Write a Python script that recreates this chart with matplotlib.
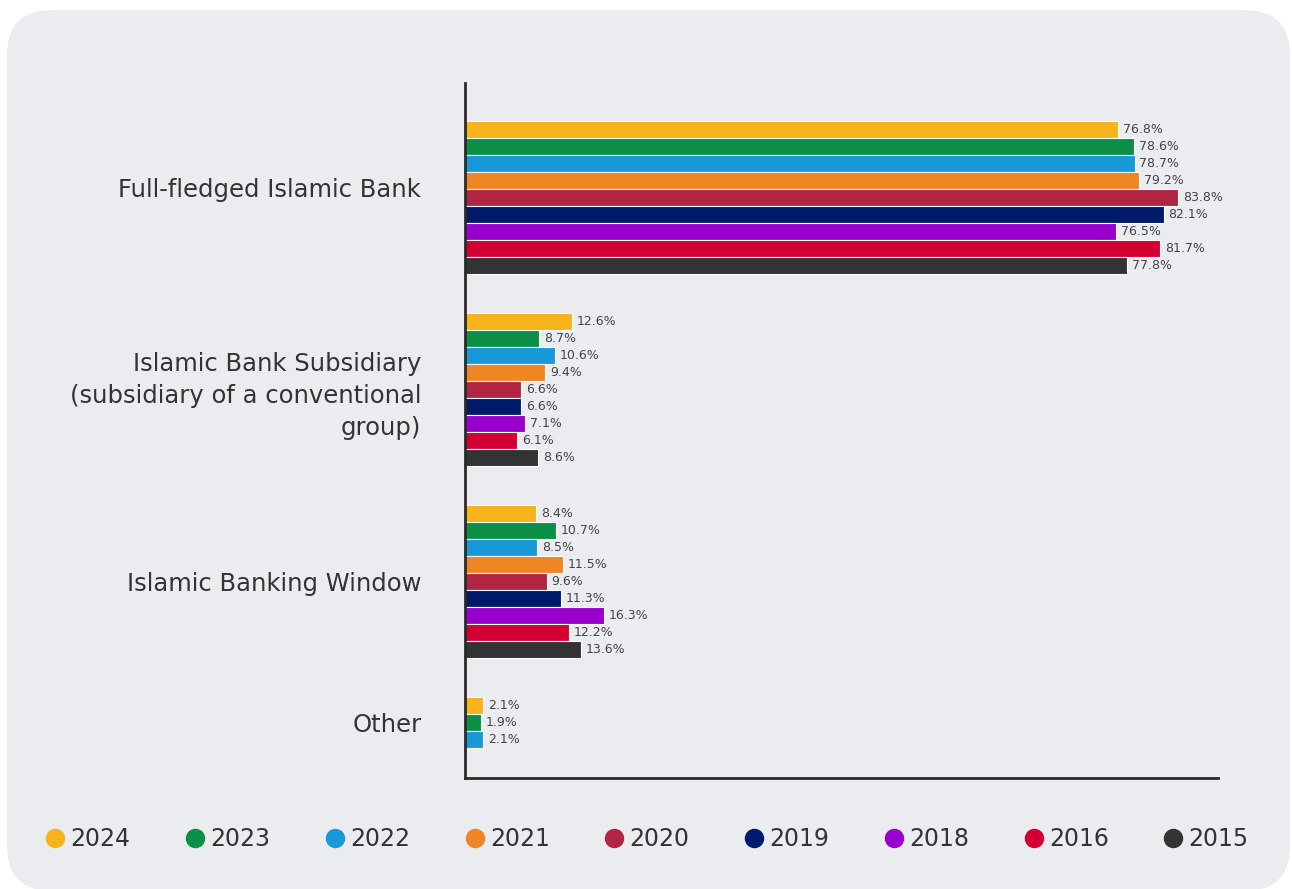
import matplotlib.pyplot as plt
from matplotlib.patches import FancyBboxPatch
from matplotlib.lines import Line2D

# Categories (top to bottom) and shares per year, in %
categories = ["Full-fledged Islamic Bank",
              "Islamic Bank Subsidiary\n(subsidiary of a conventional\ngroup)",
              "Islamic Banking Window",
              "Other"]
years = ["2024", "2023", "2022", "2021", "2020", "2019", "2018", "2016", "2015"]

share_2024 = [76.8, 12.6, 8.4, 2.1]
share_2023 = [78.6, 8.7, 10.7, 1.9]
share_2022 = [78.7, 10.6, 8.5, 2.1]
share_2021 = [79.2, 9.4, 11.5, None]
share_2020 = [83.8, 6.6, 9.6, None]
share_2019 = [82.1, 6.6, 11.3, None]
share_2018 = [76.5, 7.1, 16.3, None]
share_2016 = [81.7, 6.1, 12.2, None]
share_2015 = [77.8, 8.6, 13.6, None]

series = [share_2024, share_2023, share_2022, share_2021, share_2020,
          share_2019, share_2018, share_2016, share_2015]
colors = ["#f4b41a", "#0c8f47", "#199ad8", "#f08523", "#b02542",
          "#001a6e", "#9900cc", "#d20032", "#333333"]

W, H = 1292, 889
fig = plt.figure(figsize=(W / 100, H / 100), dpi=100)
fig.patch.set_facecolor("white")

# rounded grey card behind everything
card = FancyBboxPatch((7 / W, -2 / H), (1290 - 7) / W, (H - 10 + 2) / H,
                      boxstyle="round,pad=0,rounding_size=0.035",
                      transform=fig.transFigure, facecolor="#ebecf0",
                      edgecolor="none", zorder=-10, mutation_aspect=W / H)
fig.patches.append(card)

ax = fig.add_axes([465 / W, 1 - 778 / H, (1218 - 465) / W, (778 - 83) / H])
ax.set_facecolor("none")
ax.set_zorder(1)

group_step = 192 / 17  # distance between categories, in bar slots

tick_pos = []
for g, cat in enumerate(categories):
    used = []
    for i, (vals, col) in enumerate(zip(series, colors)):
        v = vals[g]
        if v is None:
            continue
        y = g * group_step + i + 0.5
        used.append(y)
        ax.barh(y, v, height=1.0, color=col, edgecolor="white", linewidth=0.8)
        ax.annotate(f"{v:.1f}%", (v, y), xytext=(3.5, 0), textcoords="offset points",
                    va="center", ha="left", fontsize=9, color="#444444")
    tick_pos.append((min(used) + max(used)) / 2)
# first label sits a little above its bars
tick_pos[0] -= 0.6

ax.set_xlim(0, 88.5)
ax.set_ylim((778 - 121) / 17, (83 - 121) / 17)

ax.set_yticks(tick_pos)
ax.set_yticklabels(categories, fontsize=17.5, color="#333333", linespacing=1.42)
ax.tick_params(axis="y", length=0, pad=31.5)
ax.set_xticks([])

for s in ["top", "right"]:
    ax.spines[s].set_visible(False)
for s in ["left", "bottom"]:
    ax.spines[s].set_color("#2a2a2a")
    ax.spines[s].set_linewidth(2)

# legend along the bottom
handles = [Line2D([], [], marker="o", linestyle="none", markersize=13,
                  markerfacecolor=c, markeredgecolor=c) for c in colors]
fig.legend(handles, years, loc="center", bbox_to_anchor=(646 / W, 1 - 839 / H),
           ncol=9, frameon=False, fontsize=17, handletextpad=0.15,
           columnspacing=2.23, handlelength=1.0, labelcolor="#333333")

fig.savefig("out.png", dpi=100)
